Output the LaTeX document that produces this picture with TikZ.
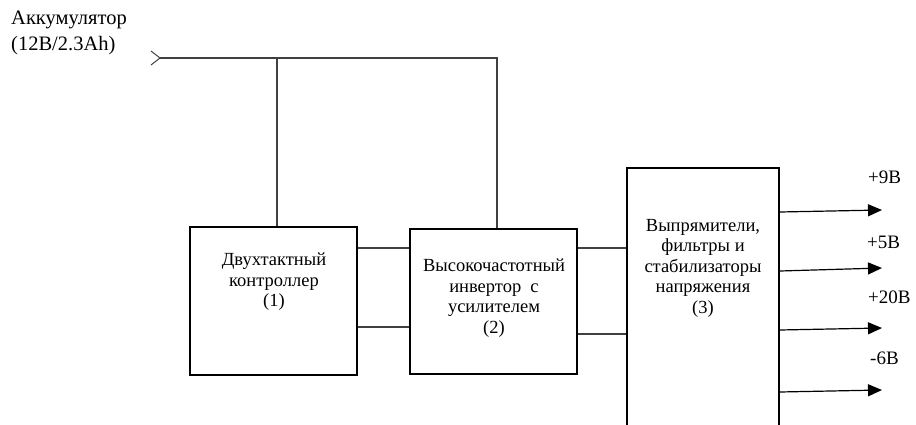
\documentclass[tikz,border=0pt]{standalone}
\usepackage{fontspec}
\setmainfont{Liberation Serif}
\usetikzlibrary{arrows.meta}

\begin{document}
\begin{tikzpicture}[x=1pt,y=-1pt,
    blok/.style={draw=black,line width=1.8pt,inner sep=0pt},
    txt/.style={align=center,inner sep=0pt,font=\fontsize{18.5}{20.5}\selectfont},
    wire/.style={draw=black!75,line width=1.1pt},
    vyhod/.style={draw=black,line width=1.2pt,-{Triangle[length=14pt,width=12pt]}},
    volt/.style={anchor=west,inner sep=0pt,font=\fontsize{19}{22}\selectfont}]
          \clip (0,0) rectangle (916,425);
          % battery
          \node[anchor=west,align=left,inner sep=0pt,font=\fontsize{20.5}{26}\selectfont] (akk) at (11,33) {Аккумулятор\\(12В/2.3Аh)};
          \coordinate (in) at (160,58);
          \coordinate (tj) at (277,58);
          \coordinate (tr) at (497,58);
          % blocks
          \node[blok,minimum width=167,minimum height=148] (b1) at (273.5,301) {};
          \node[blok,minimum width=167,minimum height=145] (b2) at (493.5,301.5) {};
          \node[blok,minimum width=152,minimum height=300,anchor=north] (b3) at (703,167) {};
          \node[txt] (t1) at (274,282) {Двухтактный\\контроллер\\(1)};
          \node[txt] (t2) at (494,298) {Высокочастотный\\инвертор\ \ с\\усилителем\\(2)};
          \node[txt] (t3) at (703,268) {Выпрямители,\\фильтры и\\стабилизаторы\\напряжения\\(3)};
          % supply
          \draw[wire,line width=1pt] (in) ++(-9,-7) -- (in) -- ++(-9,7);
          \draw[wire] (in) -- (tr) -- (tr |- b2.north);
          \draw[wire] (tj) -- (tj |- b1.north);
          % links
          \draw[wire] (b1.east |- 0,248) -- (b2.west |- 0,248);
          \draw[wire] (b1.east |- 0,327) -- (b2.west |- 0,327);
          \draw[wire] (b2.east |- 0,248) -- (b3.west |- 0,248);
          \draw[wire] (b2.east |- 0,334) -- (b3.west |- 0,334);
          % outputs
          \coordinate (o1) at (882,210);
          \coordinate (o2) at (882,268);
          \coordinate (o3) at (882,328);
          \coordinate (o4) at (882,390);
          \draw[vyhod] (b3.east |- 0,212) -- (o1);
          \draw[vyhod] (b3.east |- 0,271) -- (o2);
          \draw[vyhod] (b3.east |- 0,330) -- (o3);
          \draw[vyhod] (b3.east |- 0,392) -- (o4);
          \node[volt] (v1) at (868,177) {+9В};
          \node[volt] (v2) at (867,242) {+5В};
          \node[volt] (v3) at (868,297) {+20В};
          \node[volt] (v4) at (870,358) {-6В};
        \end{tikzpicture}
\end{document}
